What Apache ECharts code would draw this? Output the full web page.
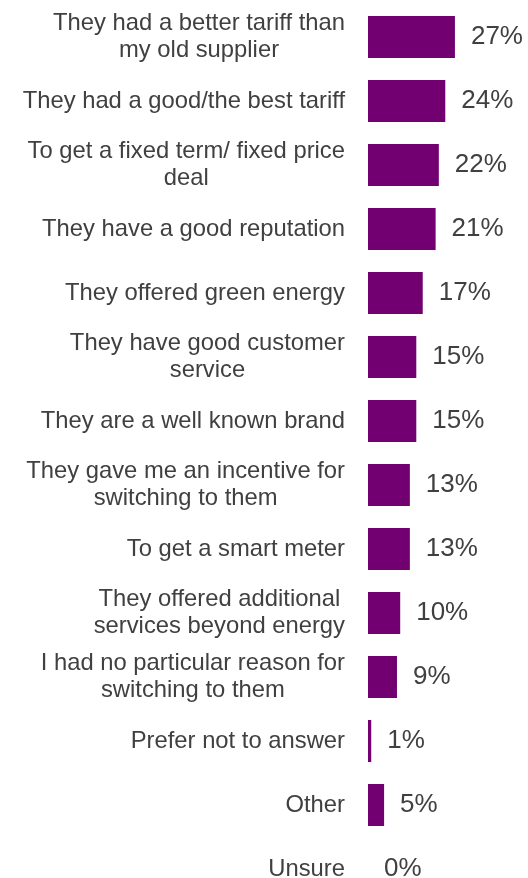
<!DOCTYPE html>
<html>
<head>
<meta charset="utf-8">
<script src="https://cdn.jsdelivr.net/npm/echarts@6/dist/echarts.min.js"></script>
<style>
  html, body { margin: 0; padding: 0; background: #ffffff; }
  #chart { width: 528px; height: 878px; }
</style>
</head>
<body>
<div id="chart"></div>
<script>
// Reasons for choosing the new supplier (% of switchers)
const reasons = [
  'They had a better tariff than\nmy old supplier',
  'They had a good/the best tariff',
  'To get a fixed term/ fixed price\ndeal',
  'They have a good reputation',
  'They offered green energy',
  'They have good customer\nservice',
  'They are a well known brand',
  'They gave me an incentive for\nswitching to them',
  'To get a smart meter',
  'They offered additional\nservices beyond energy',
  'I had no particular reason for\nswitching to them',
  'Prefer not to answer',
  'Other',
  'Unsure'
];
const shares = [27, 24, 22, 21, 17, 15, 15, 13, 13, 10, 9, 1, 5, 0];

const BAR_COLOR = '#720070';
const TEXT_COLOR = '#404040';
const FONT = "'Liberation Sans', Arial, sans-serif";

const chart = echarts.init(document.getElementById('chart'), null, { renderer: 'canvas' });

chart.setOption({
  backgroundColor: '#ffffff',
  animation: false,
  grid: {
    left: 368, top: 5, width: 161, height: 896,
    containLabel: false,
    outerBoundsMode: 'none'
  },
  xAxis: {
    type: 'value',
    min: 0,
    max: 50,
    show: false
  },
  yAxis: {
    type: 'category',
    inverse: true,
    data: reasons,
    axisLine: { show: false },
    axisTick: { show: false },
    splitLine: { show: false },
    axisLabel: {
      margin: 23,
      align: 'right',
      // each wrapped line is centred inside the right-aligned block
      formatter: function (v) {
        return v.split('\n').map(function (l) { return '{c|' + l + '}'; }).join('\n');
      },
      rich: {
        c: {
          align: 'center',
          fontFamily: FONT,
          fontSize: 23.8,
          lineHeight: 27,
          color: TEXT_COLOR
        }
      }
    }
  },
  series: [{
    type: 'bar',
    data: shares,
    barWidth: 42,
    itemStyle: { color: BAR_COLOR },
    label: {
      show: true,
      position: 'right',
      distance: 16,
      formatter: '{c}%',
      fontFamily: FONT,
      fontSize: 26,
      color: TEXT_COLOR
    }
  }]
});
</script>
</body>
</html>
